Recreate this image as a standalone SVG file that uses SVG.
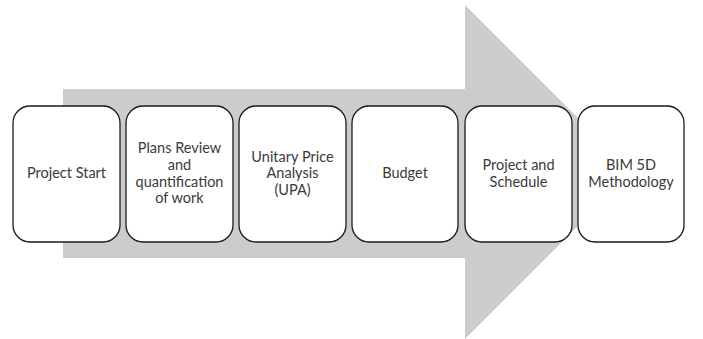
<svg xmlns="http://www.w3.org/2000/svg" width="703" height="339" viewBox="0 0 703 339">
  <style>
    .box { fill: #ffffff; stroke: #1a1a1a; stroke-width: 1.3; }
    .lbl { font-family: Lato, "Open Sans", "Liberation Sans", sans-serif; font-size: 14.5px; fill: #3a3a3a; text-anchor: middle; }
  </style>
  <rect width="703" height="339" fill="#ffffff"/>
  <g id="connectors">
    <polygon id="process-arrow" points="63,89 465,89 465,5 632,172 465,339 465,258 63,258" fill="#cccccc"/>
  </g>
  <g id="node-project-start">
    <rect class="box" x="13" y="106" width="107" height="136" rx="17" ry="17"/>
    <text class="lbl" x="66.5" y="178">Project Start</text>
  </g>
  <g id="node-plans-review">
    <rect class="box" x="126" y="106" width="107" height="136" rx="17" ry="17"/>
    <text class="lbl" x="179.5" y="153">Plans Review</text>
    <text class="lbl" x="179.5" y="170">and</text>
    <text class="lbl" x="179.5" y="186.5">quantification</text>
    <text class="lbl" x="179.5" y="203">of work</text>
  </g>
  <g id="node-upa">
    <rect class="box" x="239" y="106" width="107" height="136" rx="17" ry="17"/>
    <text class="lbl" x="292.5" y="161.5">Unitary Price</text>
    <text class="lbl" x="292.5" y="178">Analysis</text>
    <text class="lbl" x="292.5" y="195">(UPA)</text>
  </g>
  <g id="node-budget">
    <rect class="box" x="352" y="106" width="106" height="136" rx="17" ry="17"/>
    <text class="lbl" x="405" y="178">Budget</text>
  </g>
  <g id="node-project-schedule">
    <rect class="box" x="465" y="106" width="107" height="136" rx="17" ry="17"/>
    <text class="lbl" x="518.5" y="170">Project and</text>
    <text class="lbl" x="518.5" y="186.5">Schedule</text>
  </g>
  <g id="node-bim-5d">
    <rect class="box" x="578" y="106" width="106" height="136" rx="17" ry="17"/>
    <text class="lbl" x="631" y="170">BIM 5D</text>
    <text class="lbl" x="631" y="186.5">Methodology</text>
  </g>
</svg>
